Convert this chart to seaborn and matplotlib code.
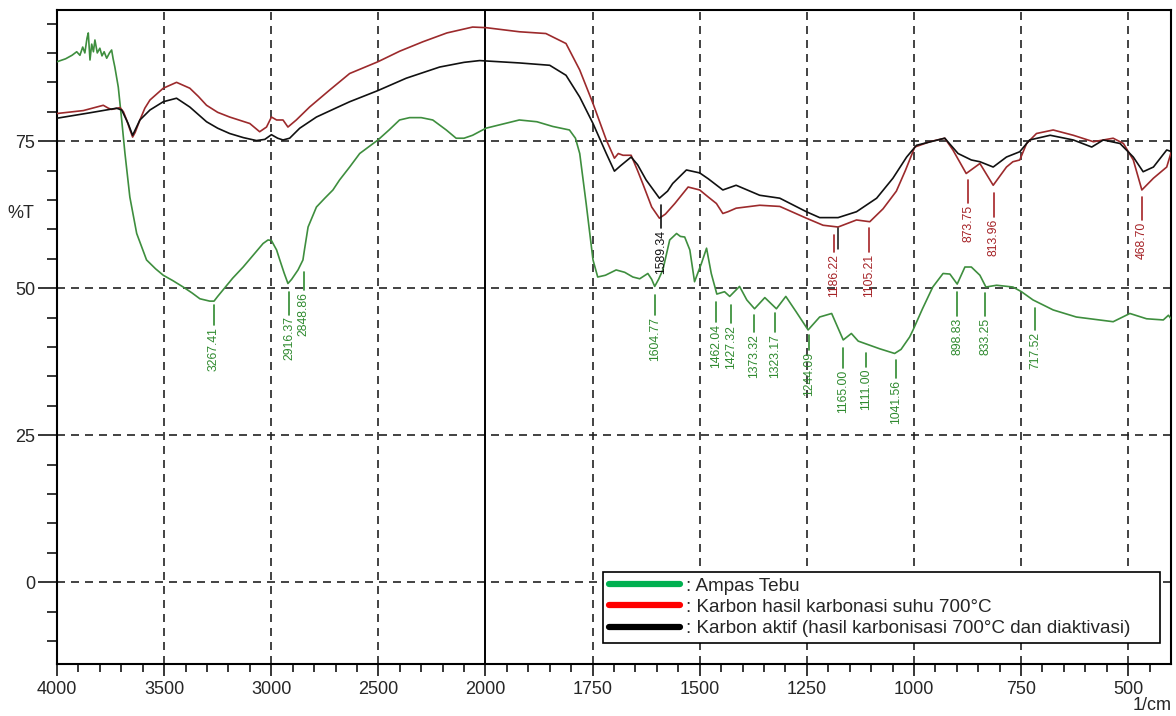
import numpy as np
import pandas as pd
import matplotlib
matplotlib.use("Agg")
import matplotlib.pyplot as plt
from matplotlib.lines import Line2D
from matplotlib.ticker import FixedLocator
import seaborn as sns

# ---------------- data (wavenumber 1/cm, %T) ----------------
green_wn = [4000, 3960, 3930, 3908, 3893, 3880, 3870, 3860, 3854, 3846, 3838, 3830, 3823, 3812,
            3800, 3790, 3780, 3768, 3755, 3745, 3738, 3730, 3714, 3698, 3683, 3660, 3628, 3582,
            3540, 3504, 3460, 3411, 3370, 3333, 3300, 3287, 3267, 3250, 3225, 3180, 3131, 3080,
            3038, 3015, 2999, 2975, 2960, 2940, 2922, 2905, 2875,
            2852, 2845, 2828, 2789, 2750, 2712, 2681, 2634, 2587, 2502, 2450, 2401, 2354, 2300,
            2246, 2183, 2137, 2100, 2060, 1999, 1960, 1921, 1880, 1843, 1804, 1790, 1780, 1765,
            1749, 1738, 1720, 1695,
            1675, 1656, 1640, 1621, 1612, 1605, 1596, 1586, 1570, 1554, 1545, 1535, 1523, 1512,
            1496, 1484, 1473, 1460, 1442, 1430, 1407, 1390, 1372, 1348, 1321, 1299, 1275, 1247,
            1220, 1192, 1165, 1146, 1130, 1111, 1080, 1045, 1030, 1010, 1002, 980, 956, 932, 916,
            899, 881, 866, 846, 832, 807, 769, 749, 722, 675, 621, 566, 535, 496, 457, 418, 406, 400]
green_t = [88.5, 89.0, 89.6, 90.2, 89.6, 91.0, 90.0, 92.5, 93.4, 88.8, 91.5, 90.2, 92.2, 90.0,
           90.8, 89.5, 90.2, 89.1, 90.0, 90.5, 89.0, 87.6, 84.2, 78.6, 73.0, 65.5, 59.3, 54.8,
           53.3, 52.2, 51.3, 50.2, 49.2, 48.2, 47.9, 47.8, 47.8, 48.6, 49.7, 51.7, 53.6, 55.8,
           57.6, 58.2, 58.1, 56.5, 54.8, 52.6, 50.8, 51.5, 53.1,
           54.8, 56.5, 60.4, 63.8, 65.3, 66.7, 68.4, 70.6, 72.9, 75.2, 76.9, 78.6, 79.0, 79.0,
           78.6, 76.9, 75.5, 75.5, 76.0, 77.2, 77.9, 78.6, 78.3, 77.5, 76.9, 75.5, 72.9, 64.4,
           54.8, 51.9, 52.2, 53.1,
           52.7, 51.9, 51.6, 52.5, 51.5, 50.3, 51.5, 53.1, 58.2, 59.3, 58.8, 58.7, 56.5, 51.1,
           54.2, 56.8, 52.5, 49.0, 49.4, 48.6, 50.3, 48.0, 46.5, 48.4, 46.5, 48.6, 46.0, 42.9,
           45.1, 45.7, 41.2, 42.3, 41.0, 40.5, 39.7, 38.9, 39.6, 41.7, 42.9, 46.5, 50.2, 52.5, 52.4,
           50.7, 53.6, 53.6, 52.2, 50.2, 50.5, 50.2, 49.4, 48.0, 46.3, 45.1, 44.6, 44.3, 45.7,
           44.8, 44.6, 45.4, 44.8]

red_wn = [4000, 3877, 3784, 3760, 3745, 3706, 3690, 3675, 3660, 3647, 3635, 3613, 3590, 3566, 3504,
          3442, 3380, 3340, 3302, 3250, 3194, 3100, 3054, 3022, 2999, 2975, 2945, 2922, 2883, 2821,
          2727, 2634, 2502, 2400, 2292, 2180, 2060, 1999, 1921, 1859, 1812, 1780, 1749, 1718, 1699,
          1690, 1679, 1660, 1645, 1633, 1612, 1594, 1580, 1558, 1527, 1500, 1480, 1461, 1446, 1434,
          1415, 1360, 1313, 1251, 1212, 1177, 1134, 1103, 1072, 1041, 1020, 998, 963, 928, 909, 878,
          846, 815, 784, 769, 753, 737, 714, 675, 628, 581, 535, 511, 488, 468, 441, 410, 398]
red_t = [79.7, 80.2, 81.1, 80.6, 80.4, 80.7, 80.0, 78.6, 77.0, 75.7, 76.5, 78.6, 80.6, 82.0, 84.0,
         85.0, 84.0, 82.6, 81.1, 79.9, 79.1, 78.0, 76.6, 77.4, 79.1, 78.6, 78.6, 77.4, 78.6, 80.8,
         83.7, 86.5, 88.5, 90.3, 91.9, 93.4, 94.4, 94.3, 93.6, 93.3, 91.6, 87.1, 81.4, 75.2, 72.1,
         72.9, 72.6, 72.6, 70.0, 67.8, 63.8, 61.9, 62.6, 64.4, 67.2, 66.7, 65.5, 64.4, 62.7, 63.0,
         63.6, 64.1, 63.9, 61.9, 60.7, 60.4, 61.6, 61.3, 63.5, 66.5, 70.0, 74.0, 74.9, 75.5, 73.5,
         69.5, 71.2, 67.5, 70.6, 71.5, 71.8, 74.6, 76.3, 76.9, 76.0, 74.9, 75.5, 74.6, 71.8,
         66.7, 68.7, 70.6, 73.5]

black_wn = [4000, 3850, 3722, 3698, 3668, 3647, 3613, 3566, 3504, 3442, 3380, 3302, 3250, 3194,
            3130, 3069, 3030, 2999, 2970, 2945, 2914, 2867, 2789, 2700, 2634, 2502, 2370, 2214,
            2100, 2027, 1921, 1850, 1812, 1780, 1749, 1718, 1699, 1685, 1660, 1645, 1625, 1594,
            1575, 1563, 1531, 1500, 1480, 1446, 1415, 1360, 1313, 1251, 1220, 1177, 1134, 1087,
            1049, 1033, 1017, 994, 928, 897, 866, 846, 815, 784, 753, 730, 682, 628, 585, 558, 519,
            488, 465, 441, 425, 410, 398]
black_t = [78.9, 79.8, 80.6, 80.3, 78.0, 76.0, 78.6, 80.3, 81.7, 82.3, 80.8, 78.3, 77.2, 76.3,
           75.6, 75.1, 75.3, 76.1, 75.5, 75.2, 75.5, 77.2, 79.1, 80.6, 81.7, 83.6, 85.7, 87.6,
           88.4, 88.7, 88.3, 87.9, 86.2, 82.5, 78.0, 72.9, 69.9, 70.8, 72.3, 71.0, 68.4, 65.3,
           66.5, 67.8, 70.1, 69.6, 68.6, 66.7, 67.5, 65.8, 65.3, 63.0, 62.0, 62.0, 63.0, 65.3,
           68.7, 70.5, 72.3, 74.3, 75.5, 72.9, 71.8, 71.5, 70.6, 72.3, 73.2, 75.2, 76.0, 75.2,
           74.0, 75.2, 74.6, 72.3, 69.8, 70.6, 72.1, 73.5, 73.2]

series_names = ["Ampas Tebu",
                "Karbon hasil karbonasi suhu 700°C",
                "Karbon aktif (hasil karbonisasi 700°C dan diaktivasi)"]

# peak annotations: text (= wavenumber), line top %T, line bottom %T
green_labels = ["3267.41", "2916.37", "2848.86", "1604.77", "1462.04", "1427.32", "1373.32",
                "1323.17", "1244.09", "1165.00", "1111.00", "1041.56", "898.83", "833.25", "717.52"]
green_label_top = [47.1, 49.3, 52.7, 48.8, 47.6, 47.1, 45.4, 45.7, 42.0, 39.8, 38.9, 37.8, 49.3, 49.1, 46.6]
green_label_bot = [43.7, 45.5, 49.7, 45.4, 44.2, 44.0, 42.5, 42.5, 39.5, 36.4, 36.6, 34.7, 45.3, 45.3, 42.9]
red_labels = ["1186.22", "1105.21", "873.75", "813.96", "468.70"]
red_label_top = [59.0, 60.2, 68.4, 66.2, 65.5]
red_label_bot = [56.1, 56.1, 64.5, 62.1, 61.6]
black_labels = ["1589.34"]
black_label_top = [64.1]
black_label_bot = [60.2]

x_major = [4000, 3500, 3000, 2500, 2000, 1750, 1500, 1250, 1000, 750, 500]
y_major = [0, 25, 50, 75]

# ---------------- styling ----------------
sns.set_style("ticks")
plt.rcParams["font.family"] = ["Liberation Sans", "DejaVu Sans"]

curve_colors = ["#3e8e3e", "#9c2a2c", "#111111"]
legend_colors = ["#00b050", "#ff0000", "#000000"]

df = pd.concat([
    pd.DataFrame({"wn": green_wn, "T": green_t, "sample": series_names[0]}),
    pd.DataFrame({"wn": red_wn, "T": red_t, "sample": series_names[1]}),
    pd.DataFrame({"wn": black_wn, "T": black_t, "sample": series_names[2]}),
])

fig = plt.figure(figsize=(11.76, 7.16), dpi=100)
ax = fig.add_axes([57 / 1176, 1 - 664 / 716, (1171 - 57) / 1176, (664 - 10) / 716])

# grid
dash = (0, (4.8, 3.6))
for yv in y_major:
    ax.axhline(yv, color="#222222", lw=1.2, ls=dash, zorder=1)
for xv in x_major:
    if xv in (4000, 2000):
        continue
    ax.axvline(xv, color="#222222", lw=1.2, ls=dash, zorder=1)
ax.axvline(2000, color="black", lw=1.4, zorder=1)

sns.lineplot(data=df, x="wn", y="T", hue="sample", palette=curve_colors,
             hue_order=series_names, sort=False, estimator=None, lw=1.2,
             legend=False, ax=ax, zorder=3)


def fwd(x):
    x = np.asarray(x, dtype=float)
    return np.where(x >= 2000, x, 2 * x - 2000)


def inv(y):
    y = np.asarray(y, dtype=float)
    return np.where(y >= 2000, y, (y + 2000) / 2)


ax.set_xscale("function", functions=(fwd, inv))
ax.set_xlim(4000, 400)
ax.set_ylim(-13.9, 97.3)

ax.xaxis.set_major_locator(FixedLocator(x_major))
ax.xaxis.set_minor_locator(FixedLocator(list(range(3900, 2000, -100)) + list(range(1950, 400, -50))))
ax.yaxis.set_major_locator(FixedLocator(y_major))
ax.yaxis.set_minor_locator(FixedLocator(list(range(-10, 96, 5))))
ax.set_xticklabels([str(v) for v in x_major])
ax.set_yticklabels([str(v) for v in y_major])
ax.tick_params(axis="x", which="major", direction="out", length=8.5, width=1.3, labelsize=13, pad=4)
ax.tick_params(axis="x", which="minor", direction="out", length=5.5, width=1.3)
ax.tick_params(axis="y", which="major", direction="out", length=13.5, width=1.3, labelsize=13, pad=2)
ax.tick_params(axis="y", which="minor", direction="out", length=7, width=1.3)
ax.set_xlabel("")
ax.set_ylabel("")
for sp in ax.spines.values():
    sp.set_visible(True)
    sp.set_linewidth(1.5)
    sp.set_color("black")

# peak annotations
def annotate(labels, tops, bots, color):
    for lab, t1, t2 in zip(labels, tops, bots):
        w = float(lab)
        ax.plot([w, w], [t1, t2], color=color, lw=1.2, zorder=4)
        ax.text(w, t2 - 0.3, lab, rotation=90, ha="center", va="top",
                fontsize=8.8, color=color, zorder=4)

annotate(green_labels, green_label_top, green_label_bot, "#2f8a2f")
annotate(red_labels, red_label_top, red_label_bot, "#a52226")
annotate(black_labels, black_label_top, black_label_bot, "#111111")
ax.plot([1178, 1178], [60.2, 56.6], color="#111111", lw=1.1, zorder=4)

# legend (box spans a fixed region, entries left-aligned, opaque)
handles = [Line2D([0], [0], color=c, lw=4.5) for c in legend_colors]
leg = ax.legend(handles, [": " + s for s in series_names], loc="lower left",
                bbox_to_anchor=(0.490, 0.032, 0.500, 0.110), mode="expand",
                frameon=True, fancybox=False, framealpha=1.0, facecolor="white",
                fontsize=13.6, handlelength=3.8, handletextpad=0.3, labelspacing=0.22,
                borderpad=0.3, borderaxespad=0)
leg.get_frame().set_edgecolor("black")
leg.get_frame().set_linewidth(1.2)
leg.set_zorder(6)

fig.text(21 / 1176, 1 - 213 / 716, "%T", fontsize=13, ha="center", va="center")
fig.text(1172 / 1176, 1 - 706 / 716, "1/cm", fontsize=13, ha="right", va="center")

fig.savefig("out.png", dpi=100, facecolor="white")
